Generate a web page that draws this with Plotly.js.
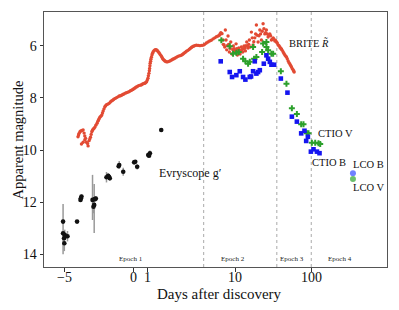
<!DOCTYPE html>
<html>
<head>
<meta charset="utf-8">
<script src="https://cdn.plot.ly/plotly-3.0.1.min.js"></script>
<style>html,body{margin:0;padding:0;background:#fff}#chart{width:399px;height:310px}</style>
</head>
<body>
<div id="chart"></div>
<script>
// ---- data (days after discovery, apparent magnitude) ----
const briteDays = [-3.99,-3.91,-3.79,-3.62,-3.50,-3.74,-3.50,-3.38,-3.26,-3.19,-3.09,-2.99,-2.90,-2.78,-2.61,-2.51,-2.41,-2.27,-2.17,-2.05,-1.93,-1.74,-1.57,-1.40,-1.20,-1.01,-0.84,-0.67,-0.48,-0.29,-0.12,0.05,0.20,0.36,0.54,0.68,0.85,0.97,1.07,1.14,1.19,1.23,1.28,1.36,1.45,1.57,1.70,1.81,1.93,2.06,2.17,2.30,2.42,2.59,2.78,2.95,3.14,3.33,3.51,3.67,3.86,4.06,4.23,4.40,4.59,4.83,5.07,5.17,5.41,5.65,5.90,6.14,6.34,6.73,6.94,7.15,7.44,7.60,7.76,8.07,8.40,8.76,9.11,9.48,9.89,10.29,10.70,11.16,11.61,12.08,12.60,13.11,13.64,14.22,14.79,15.39,16.35,17.22,18.13,19.03,20.04,21.10,22.14,23.31,24.55,25.77,27.13,28.56,29.98,31.57,33.24,34.88,36.72,38.65,40.59,42.74,44.99,47.22,49.73,52.34,54.96,57.86,59.63,
  -3.95,-3.85,-3.70,-3.55,-3.62,-3.44,-3.30,-3.14,-3.04,-2.95,-2.84,-2.70,-2.56,-2.46,-2.34,-2.22,-2.11,-1.99,-1.84,-1.65,-1.48,-1.30,-1.10,-0.92,-0.75,-0.57,-0.38,-0.20,-0.03,0.13,0.28,0.45,0.61,0.77,0.91,1.02,1.10,1.17,1.21,1.26,1.32,1.40,1.51,1.63,1.75,1.87,2.00,2.11,2.24,2.36,2.50,2.68,2.86,3.04,3.24,3.42,3.59,3.77,3.96,4.15,4.32,4.50,4.71,4.95,
  5.29,5.53,5.78,6.02,6.24,6.50,7.00,7.30,7.90,8.20,8.60,9.30,9.70,10.10,10.50,10.90,11.40,11.80,12.30,12.80,13.40,13.90,14.50,15.10,15.80,16.80,17.60,18.60,19.50,20.60,21.60,22.70,23.90,25.10,26.40,27.80,29.20,30.80,32.40,34.00,35.80,37.70,39.60,41.60,43.80,46.10,48.40,51.00,53.60,56.40,58.80];
const briteMag = [9.49,9.36,9.27,9.23,9.46,9.77,9.61,9.70,9.84,9.64,9.51,9.30,9.20,9.13,8.97,8.85,8.74,8.66,8.50,8.34,8.26,8.21,8.12,8.05,7.99,7.93,7.90,7.85,7.80,7.76,7.71,7.65,7.59,7.54,7.51,7.47,7.44,7.38,7.25,7.06,6.87,6.67,6.52,6.36,6.23,6.16,6.16,6.23,6.32,6.42,6.52,6.59,6.62,6.60,6.55,6.50,6.44,6.39,6.36,6.29,6.21,6.14,6.06,6.01,5.98,6.00,5.98,5.95,5.86,5.79,5.70,5.63,5.55,5.54,5.78,5.97,5.40,5.78,6.16,5.63,6.24,5.86,6.32,6.01,6.24,5.93,6.36,6.09,6.32,6.05,6.24,6.01,6.20,5.86,6.09,5.78,5.48,5.97,5.70,5.21,5.86,5.40,5.78,5.16,5.55,5.40,5.67,5.55,5.78,5.70,5.82,5.86,5.97,6.05,6.13,6.24,6.36,6.43,6.59,6.70,6.82,6.93,7.01,
  9.42,9.30,9.25,9.35,9.70,9.55,9.75,9.58,9.40,9.25,9.17,9.05,8.90,8.80,8.70,8.58,8.42,8.30,8.24,8.16,8.09,8.02,7.96,7.92,7.87,7.82,7.78,7.73,7.68,7.62,7.57,7.52,7.50,7.45,7.41,7.32,7.15,6.96,6.77,6.60,6.44,6.29,6.19,6.15,6.19,6.27,6.37,6.47,6.56,6.61,6.62,6.58,6.52,6.47,6.41,6.38,6.33,6.25,6.18,6.10,6.03,5.99,5.99,5.99,
  5.90,5.82,5.74,5.66,5.60,5.50,5.95,6.05,6.00,5.95,6.10,6.15,6.12,6.20,6.12,6.22,6.18,6.20,6.15,6.12,6.10,6.00,6.02,5.95,6.05,5.70,5.85,5.55,5.60,5.62,5.55,5.45,5.35,5.50,5.55,5.60,5.62,5.75,5.75,5.80,5.90,6.00,6.10,6.18,6.30,6.40,6.50,6.65,6.76,6.88,6.97];

const evryDays = [-5.07,-5.07,-4.95,-5.00,-4.98,-4.75,-4.06,-3.81,-3.74,-3.78,-2.94,-2.82,-2.87,-2.78,-2.70,-1.93,-1.81,-1.69,-1.75,-1.01,-0.72,-1.05,0.07,0.29,0.15,1.09,1.21,1.15,2.03];
const evryMag = [12.74,13.19,13.25,13.38,13.57,13.30,12.74,11.91,11.78,11.85,11.91,12.10,12.17,11.88,11.86,11.04,10.99,11.08,11.02,10.57,10.83,10.62,10.47,10.64,10.45,10.19,10.12,10.22,9.23];
const evryErrPlus = [0.10,0.80,0.20,0.15,0.30,0.20,0.05,0.08,0.08,0.05,0.77,1.08,0.25,0.10,0.10,0.20,0.10,0.10,0.05,0.15,0.15,0.05,0.05,0.10,0.05,0.10,0.10,0.05,0.05];
const evryErrMinus = [0.10,1.12,0.20,0.15,0.30,0.20,0.05,0.08,0.08,0.05,0.96,0.80,0.25,0.10,0.10,0.20,0.10,0.10,0.05,0.15,0.15,0.05,0.05,0.10,0.05,0.10,0.10,0.05,0.05];

const ctioVDays = [6.59,8.50,9.40,10.38,11.16,12.72,13.64,14.80,15.58,17.22,17.75,19.03,22.62,23.32,25.77,25.77,27.13,29.99,31.57,39.86,47.24,55.64,64.72,73.74,79.07,87.62,91.96,101.9,112.7,124.5,131.1];
const ctioVMag = [5.79,6.02,6.31,6.27,6.24,6.50,6.60,6.69,6.62,6.05,6.50,6.43,6.24,5.92,5.86,6.05,6.18,6.31,6.31,6.98,7.46,8.40,8.62,9.01,9.01,9.36,9.36,9.72,9.72,9.74,9.77];

const ctioBDays = [6.47,8.50,9.11,10.38,11.51,12.72,13.64,15.58,16.21,17.22,18.13,19.03,20.04,21.10,23.82,25.77,27.13,28.56,29.99,32.54,39.86,48.69,55.64,64.72,73.74,81.47,85.78,90.31,98.90,106.99,118.7,128.4];
const ctioBMag = [6.60,7.01,7.20,7.13,6.98,7.20,7.30,7.20,7.18,6.98,6.60,7.07,7.01,6.94,6.69,6.37,6.50,6.62,6.73,6.73,7.26,7.80,8.72,8.91,9.36,9.26,9.65,9.49,10.06,9.97,10.06,10.12];

const lcoBDays = [353];
const lcoBMag = [10.89];
const lcoVDays = [353];
const lcoVMag = [11.11];

const xTickDays = [-5, 0, 1, 10, 100];
const xTickLabels = ["\u22125", "0", "1", "10", "100"];
const yTickVals = [6, 8, 10, 12, 14];
const epochBoundDays = [5.1, 35.3, 100];
const epochLabels = ["Epoch 1", "Epoch 2", "Epoch 3", "Epoch 4"];
const epochLabelDays = [-0.17, 9.5, 56, 240];

// symmetric-log style transform of the x axis (linear near 0, log beyond)
const LIN = 6.25, DEC = 5.507;
function sx(d) {
  const a = Math.abs(d);
  const v = a <= LIN ? a : LIN + DEC * Math.log10(a / LIN);
  return d < 0 ? -v : v;
}
const T = arr => arr.map(sx);

const serif = "Liberation Serif, Times New Roman, serif";

const traces = [
  {x: T(briteDays), y: briteMag, mode: "markers", type: "scatter",
   marker: {color: "#e24a33", size: 3.4}},
  {x: T(evryDays), y: evryMag, mode: "markers", type: "scatter",
   marker: {color: "#111", size: 4.6},
   error_y: {type: "data", symmetric: false, array: evryErrPlus, arrayminus: evryErrMinus,
             color: "#999", thickness: 1.5, width: 0}},
  {x: T(ctioVDays), y: ctioVMag, mode: "markers", type: "scatter",
   marker: {color: "#2ca02c", size: 5, symbol: "cross"}},
  {x: T(ctioBDays), y: ctioBMag, mode: "markers", type: "scatter",
   marker: {color: "#1515f0", size: 4.6, symbol: "square"}},
  {x: T(lcoBDays), y: lcoBMag, mode: "markers", type: "scatter",
   marker: {color: "#7080ff", size: 6}},
  {x: T(lcoVDays), y: lcoVMag, mode: "markers", type: "scatter",
   marker: {color: "#6cbf6c", size: 6}}
];

const shapes = epochBoundDays.map(d => ({
  type: "line", xref: "x", yref: "paper", x0: sx(d), x1: sx(d), y0: 0, y1: 1,
  line: {color: "#aaa", width: 1, dash: "dot"}, layer: "below"
}));

const annotations = [
  {x: 12.73, y: 5.885, text: "BRITE <i>R\u0303</i>", size: 10.5},
  {x: 14.61, y: 9.38, text: "CTIO V", size: 10.5},
  {x: 14.14, y: 10.46, text: "CTIO B", size: 10.5},
  {x: 17.04, y: 10.57, text: "LCO B", size: 10.5},
  {x: 17.0, y: 11.45, text: "LCO V", size: 10.5},
  {x: 4.12, y: 10.87, text: "Evryscope g\u2032", size: 12}
].map(a => ({x: a.x, y: a.y, xref: "x", yref: "y", text: a.text, showarrow: false,
  font: {family: serif, size: a.size, color: "#111"}}));

epochLabels.forEach((t, i) => annotations.push({
  x: sx(epochLabelDays[i]), y: 14.18, xref: "x", yref: "y", text: t, showarrow: false,
  font: {family: serif, size: 7, color: "#222"}
}));

// x tick labels drawn as text just under the axis
xTickDays.forEach((d, i) => annotations.push({
  x: sx(d), y: -0.04, xref: "x", yref: "paper", text: xTickLabels[i], showarrow: false,
  xanchor: "center", yanchor: "middle", font: {family: serif, size: 14, color: "#111"}
}));

// axis titles placed as paper annotations
annotations.push({x: 0.513, y: -0.106, xref: "paper", yref: "paper", text: "Days after discovery",
  showarrow: false, xanchor: "center", yanchor: "middle",
  font: {family: serif, size: 15, color: "#111"}});
annotations.push({x: -0.076, y: 0.5, xref: "paper", yref: "paper", text: "Apparent magnitude",
  showarrow: false, textangle: -90, xanchor: "center", yanchor: "middle",
  font: {family: serif, size: 14.5, color: "#111"}});

const layout = {
  width: 399, height: 310,
  margin: {l: 44, r: 12, t: 12, b: 43},
  paper_bgcolor: "#fff", plot_bgcolor: "#fff",
  showlegend: false,
  font: {family: serif, color: "#111"},
  xaxis: {
    range: [-6.45, 18.36], tickvals: T(xTickDays), ticktext: xTickLabels, showticklabels: false,
    showgrid: false, zeroline: false, showline: true, mirror: true,
    linecolor: "#555", linewidth: 1, ticks: "outside", ticklen: 3.5, tickcolor: "#333"
  },
  yaxis: {
    range: [14.48, 4.71], tickvals: yTickVals,
    showgrid: false, zeroline: false, showline: true, mirror: true,
    linecolor: "#555", linewidth: 1, ticks: "outside", ticklen: 3.5, tickcolor: "#333",
    tickfont: {family: serif, size: 14, color: "#111"}
  },
  shapes: shapes,
  annotations: annotations
};

Plotly.newPlot("chart", traces, layout, {staticPlot: true, displayModeBar: false});
</script>
</body>
</html>
